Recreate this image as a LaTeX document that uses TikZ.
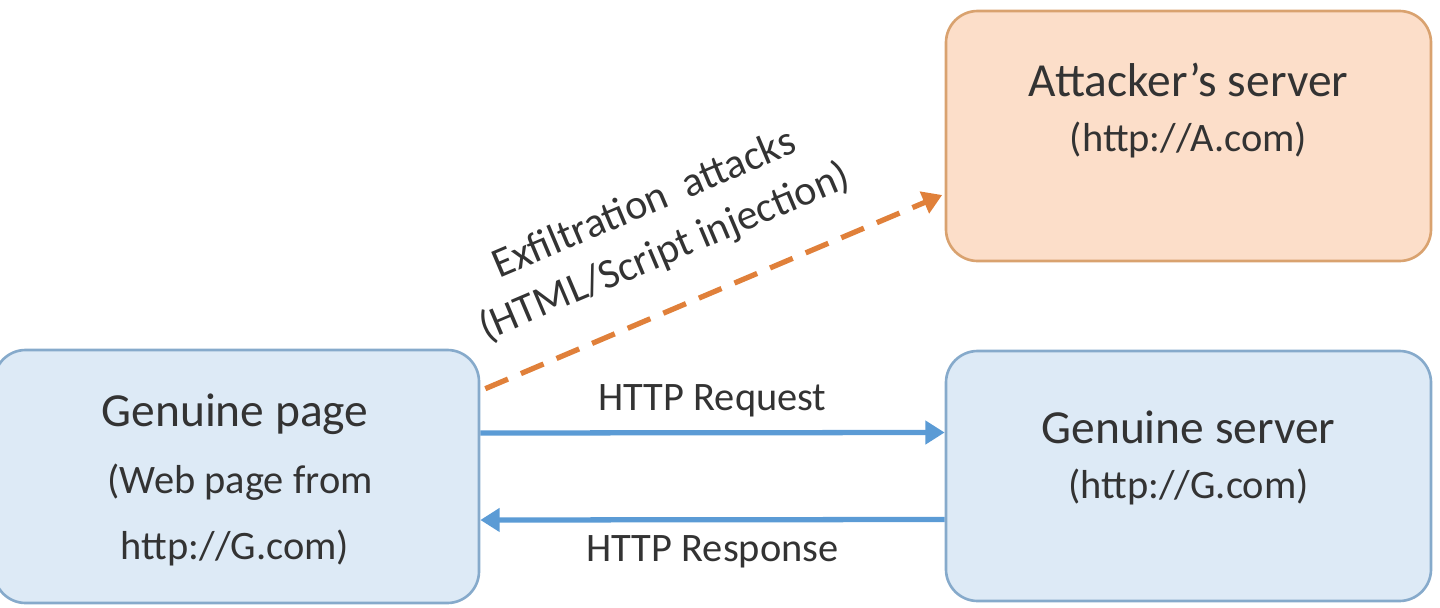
\documentclass[tikz,border=0pt]{standalone}
\usepackage{fontspec}
\setmainfont{Carlito}
\usetikzlibrary{arrows.meta,positioning}

\definecolor{boxblue}{HTML}{DDEAF6}
\definecolor{lineblue}{HTML}{86AACB}
\definecolor{arrowblue}{HTML}{5B9BD5}
\definecolor{boxorange}{HTML}{FCDEC9}
\definecolor{lineorange}{HTML}{D9A26F}
\definecolor{arroworange}{HTML}{E0803A}

\tikzset{
  box/.style={draw=lineblue, fill=boxblue, line width=1.5pt, rounded corners=18pt,
    minimum width=9.7cm, minimum height=5cm},
  attbox/.style={box, draw=lineorange, fill=boxorange},
  title/.style={font=\fontsize{27}{32}\selectfont, text=black!80},
  sub/.style={font=\fontsize{23}{28}\selectfont, text=black!80},
  link/.style={draw=arrowblue, line width=3pt, -{Triangle[length=11pt,width=13pt]}},
  exfil/.style={draw=arroworange, line width=3pt, dash pattern=on 14pt off 8pt,
    -{Triangle[length=11pt,width=13pt]}},
}

\begin{document}
\begin{tikzpicture}
\useasboundingbox (0,0) rectangle (28.8,12.14);

% Boxes
\node[box, minimum height=5.06cm] (gp) at (4.73,2.61) {};
\node[attbox] (as) at (23.77,9.42) {};
\node[box] (gs) at (23.77,2.62) {};

% Box texts
\node[title] (gpt) at (4.7,3.86) {Genuine page};
\node[sub] (gpa) at (4.8,2.5) {(Web page from};
\node[sub] (gpb) at (4.7,1.18) {http://G.com)};
\node[title] (ast) at (23.77,10.54) {Attacker’s server};
\node[sub] (asa) at (23.77,9.34) {(http://A.com)};
\node[title] (gst) at (23.77,3.6) {Genuine server};
\node[sub] (gsa) at (23.77,2.4) {(http://G.com)};

% Connectors
\draw[link] ([yshift=0.87cm]gp.east) -- ([yshift=0.87cm]gs.west)
  node[midway, above=4pt, sub] (req) {HTTP Request};
\draw[link] ([yshift=-0.87cm]gs.west) -- ([yshift=-0.87cm]gp.east)
  node[midway, below=4pt, sub] (resp) {HTTP Response};
\draw[exfil] ([xshift=0.1cm,yshift=-0.8cm]gp.north east) -- ([xshift=-0.05cm,yshift=-1.18cm]as.west)
  node[pos=0.44, sloped, yshift=46pt, sub, font=\fontsize{24}{28}\selectfont, align=center] (lbl)
  {Exfiltration\ \ attacks\\[2pt](HTML/Script injection)};
\end{tikzpicture}
\end{document}
